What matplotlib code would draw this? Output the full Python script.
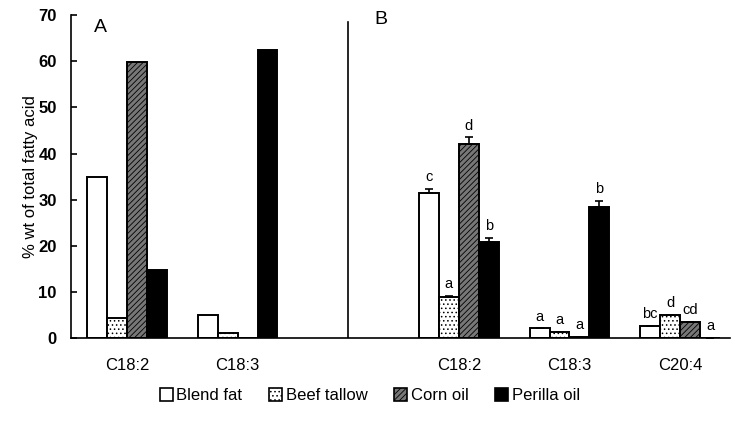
import matplotlib
matplotlib.use("Agg")
import matplotlib.pyplot as plt
import numpy as np
from matplotlib.patches import Patch

plt.rcParams['font.family'] = ['Liberation Sans', 'DejaVu Sans']
plt.rcParams['hatch.linewidth'] = 0.6

series = ["Blend fat", "Beef tallow", "Corn oil", "Perilla oil"]

# Panel A (diet fatty acids)
cats_a = ["C18:2", "C18:3"]
a_blend = [35.0, 5.1]
a_beef = [4.3, 1.0]
a_corn = [59.9, 0.0]
a_perilla = [14.7, 62.4]

# Panel B (tissue fatty acids)
cats_b = ["C18:2", "C18:3", "C20:4"]
b_blend = [31.4, 2.1, 2.7]
b_beef = [8.9, 1.3, 5.1]
b_corn = [42.0, 0.3, 3.5]
b_perilla = [20.8, 28.4, 0.0]
b_blend_err = [1.0, 0.0, 0.0]
b_beef_err = [0.2, 0.0, 0.0]
b_corn_err = [1.5, 0.0, 0.0]
b_perilla_err = [1.0, 1.4, 0.0]
b_blend_lab = ["c", "a", "bc"]
b_beef_lab = ["a", "a", "d"]
b_corn_lab = ["d", "a", "cd"]
b_perilla_lab = ["b", "b", "a"]

fig = plt.figure(figsize=(7.35, 4.21), dpi=100)
ax = fig.add_axes([0.096, 0.197, 0.897, 0.767])

xa = np.array([1, 2])
xb = np.array([4, 5, 6])
w = 0.18
offs = np.array([-1.5, -0.5, 0.5, 1.5]) * w

styles = [
    dict(facecolor="white", edgecolor="black", hatch=None),
    dict(facecolor="white", edgecolor="black", hatch="...."),
    dict(facecolor="#777777", edgecolor="black", hatch="//////"),
    dict(facecolor="black", edgecolor="black", hatch=None),
]

a_vals = [a_blend, a_beef, a_corn, a_perilla]
b_vals = [b_blend, b_beef, b_corn, b_perilla]
b_errs = [b_blend_err, b_beef_err, b_corn_err, b_perilla_err]
b_labs = [b_blend_lab, b_beef_lab, b_corn_lab, b_perilla_lab]

for i in range(4):
    st = styles[i]
    ax.bar(xa + offs[i], a_vals[i], w, facecolor=st["facecolor"],
           edgecolor=st["edgecolor"], hatch=st["hatch"], linewidth=1.4)
    ax.bar(xb + offs[i], b_vals[i], w, facecolor=st["facecolor"],
           edgecolor=st["edgecolor"], hatch=st["hatch"], linewidth=1.4)
    errs = np.array(b_errs[i])
    ax.errorbar(xb + offs[i], b_vals[i], yerr=[np.zeros_like(errs), errs],
                fmt="none", ecolor="black", elinewidth=1.2, capsize=3, capthick=1.2)
    for x, v, e, lab in zip(xb + offs[i], b_vals[i], errs, b_labs[i]):
        ax.text(x, v + e + 1.0, lab, ha="center", va="bottom", fontsize=10.5)

# divider between panels
ax.plot([3, 3], [0, 68.5], color="black", linewidth=1.2)

ax.text(0.7, 67.3, "A", fontsize=14, ha="left", va="center")
ax.text(3.24, 69.0, "B", fontsize=14, ha="left", va="center")

ax.set_xlim(0.49, 6.45)
ax.set_ylim(0, 70)
ax.set_yticks(range(0, 71, 10))
ax.set_xticks(list(xa) + list(xb))
ax.set_xticklabels(cats_a + cats_b, fontsize=12)
ax.tick_params(axis="x", length=0, pad=14)
ax.tick_params(axis="y", labelsize=12, length=4, width=1.2, direction="in", pad=10)
for t in ax.get_yticklabels():
    t.set_fontweight("bold")
ax.set_ylabel("% wt of total fatty acid", fontsize=12, labelpad=0)
ax.spines["top"].set_visible(False)
ax.spines["right"].set_visible(False)
ax.spines["left"].set_linewidth(1.2)
ax.spines["bottom"].set_linewidth(1.2)

handles = [Patch(facecolor=s["facecolor"], edgecolor="black", hatch=s["hatch"], linewidth=1.2)
           for s in styles]
fig.legend(handles, series, loc="center", bbox_to_anchor=(0.503, 0.06), ncol=4,
           frameon=False, fontsize=12, handlelength=0.8, handleheight=0.8,
           handletextpad=0.2, columnspacing=1.6)

fig.savefig("out.png", dpi=100)
